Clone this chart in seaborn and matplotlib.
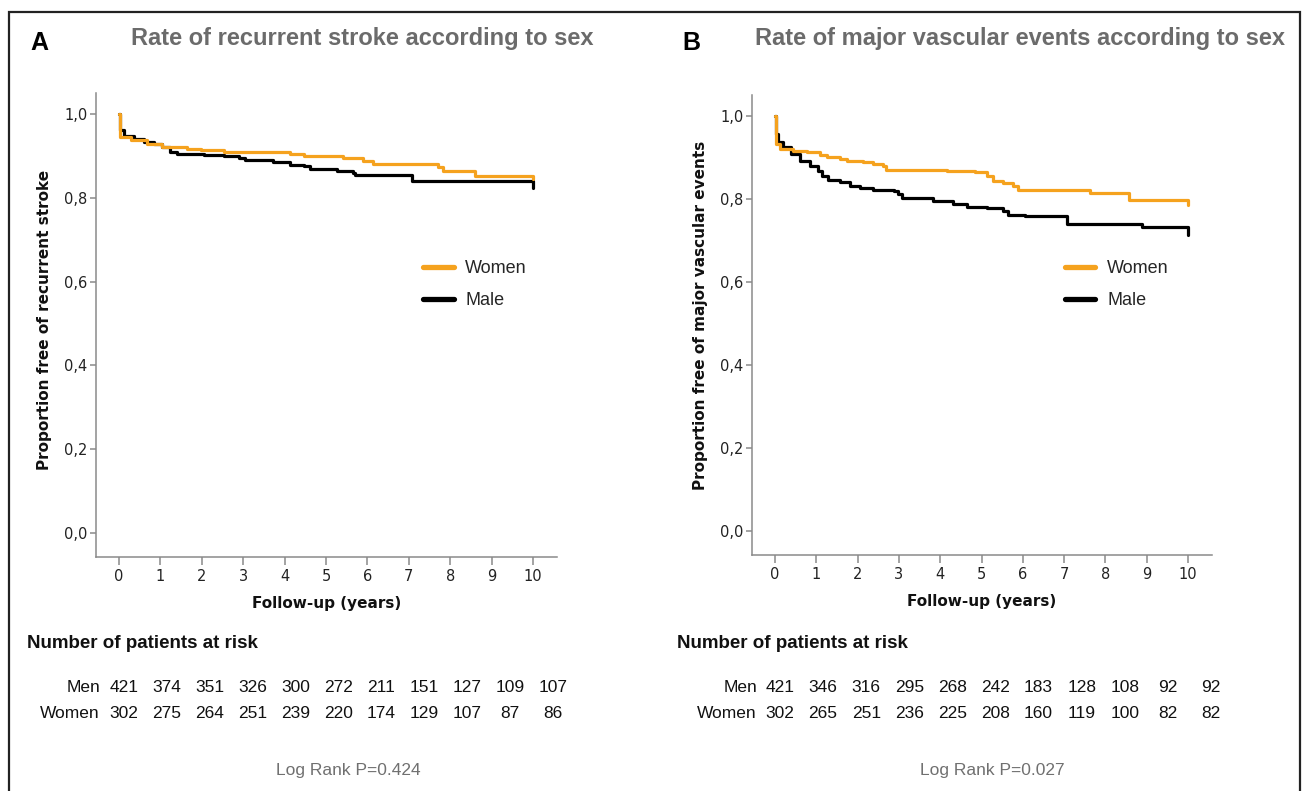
import numpy as np
import pandas as pd
import matplotlib
matplotlib.use("Agg")
import matplotlib.pyplot as plt
import seaborn as sns
from matplotlib.patches import Rectangle

# Kaplan-Meier steps (years, proportion event-free)
stroke_women_t = [0, 0.03, 0.28, 0.68, 1.04, 1.65, 1.97, 2.53, 4.14, 4.46, 5.42, 5.9, 6.14,
                  7.71, 7.83, 8.59, 10.0]
stroke_women_s = [1.0, 0.945, 0.937, 0.929, 0.921, 0.917, 0.913, 0.909, 0.905, 0.899, 0.894,
                  0.888, 0.881, 0.873, 0.865, 0.853, 0.845]
stroke_men_t = [0, 0.02, 0.12, 0.36, 0.6, 0.84, 1.04, 1.24, 1.4, 2.05, 2.53, 2.89, 3.05, 3.73,
                4.14, 4.46, 4.62, 5.26, 5.66, 5.7, 7.07, 10.0]
stroke_men_s = [1.0, 0.962, 0.948, 0.94, 0.934, 0.929, 0.921, 0.91, 0.905, 0.902, 0.899, 0.894,
                0.889, 0.885, 0.879, 0.875, 0.869, 0.865, 0.86, 0.855, 0.841, 0.823]

mve_women_t = [0, 0.03, 0.12, 0.44, 0.77, 1.09, 1.25, 1.57, 1.74, 2.14, 2.38, 2.62, 2.7, 4.16,
               4.84, 5.13, 5.29, 5.53, 5.77, 5.89, 7.63, 8.56, 10.0]
mve_women_s = [1.0, 0.932, 0.92, 0.916, 0.912, 0.906, 0.9, 0.896, 0.89, 0.888, 0.884, 0.878,
               0.87, 0.866, 0.864, 0.856, 0.844, 0.838, 0.832, 0.822, 0.814, 0.798, 0.786]
mve_men_t = [0, 0.02, 0.08, 0.2, 0.4, 0.6, 0.85, 1.05, 1.13, 1.29, 1.57, 1.82, 2.06, 2.38, 2.87,
             2.99, 3.07, 3.83, 4.32, 4.64, 5.13, 5.53, 5.65, 6.05, 7.06, 8.88, 10.0]
mve_men_s = [1.0, 0.956, 0.936, 0.924, 0.908, 0.892, 0.88, 0.868, 0.856, 0.846, 0.84, 0.832,
             0.826, 0.822, 0.818, 0.812, 0.802, 0.794, 0.788, 0.78, 0.778, 0.77, 0.762, 0.758,
             0.74, 0.732, 0.714]

# Number at risk, years 0..10
stroke_men_risk = [421, 374, 351, 326, 300, 272, 211, 151, 127, 109, 107]
stroke_women_risk = [302, 275, 264, 251, 239, 220, 174, 129, 107, 87, 86]
mve_men_risk = [421, 346, 316, 295, 268, 242, 183, 128, 108, 92, 92]
mve_women_risk = [302, 265, 251, 236, 225, 208, 160, 119, 100, 82, 82]

x_ticks = list(range(11))
y_ticks = [0.0, 0.2, 0.4, 0.6, 0.8, 1.0]
y_ticklabels = ['0,0', '0,2', '0,4', '0,6', '0,8', '1,0']

ORANGE = '#F5A21E'
GRID_GREY = '#8a8a8a'
TITLE_GREY = '#6b6b6b'

W, H = 1302, 791
sns.set_theme(style='white')
plt.rcParams['font.family'] = ['DejaVu Sans']

fig = plt.figure(figsize=(W / 100, H / 100), dpi=100)
fig.patch.set_facecolor('white')


def fx(x):
    return x / W


def fy(y):
    return 1 - y / H


def km_frame(t_w, s_w, t_m, s_m):
    men = pd.DataFrame({'time': t_m, 'surv': s_m, 'sex': 'Male'})
    women = pd.DataFrame({'time': t_w, 'surv': s_w, 'sex': 'Women'})
    return pd.concat([men, women], ignore_index=True)


def panel(box, df, ylabel, ylabel_y, legend_xy):
    left, top, right, bottom = box
    ax = fig.add_axes([fx(left), fy(bottom), (right - left) / W, (bottom - top) / H])
    sns.lineplot(data=df, x='time', y='surv', hue='sex', hue_order=['Male', 'Women'],
                 palette={'Male': 'black', 'Women': ORANGE}, estimator=None, sort=False,
                 drawstyle='steps-post', linewidth=2.3, ax=ax)
    ax.set_xlim(-0.556, 10.58)
    ax.set_ylim(-0.057, 1.05)
    ax.set_xticks(x_ticks)
    ax.set_yticks(y_ticks)
    ax.set_yticklabels(y_ticklabels)
    for s in ['top', 'right']:
        ax.spines[s].set_visible(False)
    for s in ['left', 'bottom']:
        ax.spines[s].set_color(GRID_GREY)
        ax.spines[s].set_linewidth(1.1)
    ax.tick_params(axis='both', colors=GRID_GREY, labelcolor='#222222', labelsize=10.5,
                   width=1.1)
    ax.tick_params(axis='x', length=5.5, pad=3, direction='out', bottom=True)
    ax.tick_params(axis='y', length=4, pad=2, direction='out', left=True)
    ax.set_xlabel('Follow-up (years)', fontsize=11, fontweight='bold', color='#111111')
    ax.set_ylabel(ylabel, fontsize=11, fontweight='bold', color='#111111')
    ax.xaxis.set_label_coords(0.5, -0.084)
    ax.yaxis.set_label_coords(-0.095, ylabel_y)

    handles, labels = ax.get_legend_handles_labels()
    order = [labels.index('Women'), labels.index('Male')]
    leg = ax.legend([handles[i] for i in order], ['Women', 'Male'], loc='center left',
                    bbox_to_anchor=legend_xy, frameon=False, borderpad=0, borderaxespad=0,
                    handlelength=1.7, handletextpad=0.65, labelspacing=0.85,
                    prop={'family': 'Liberation Sans', 'size': 13})
    for ln in leg.get_lines():
        ln.set_linewidth(3.8)
    return ax


def risk_table(label_right, first_x, step, men, women):
    for row_y, name, vals in [(687, 'Men', men), (713, 'Women', women)]:
        fig.text(fx(label_right), fy(row_y), name, ha='right', va='center',
                 family='Liberation Sans', fontsize=12.5, color='#111111')
        for i, v in enumerate(vals):
            fig.text(fx(first_x + i * step), fy(row_y), str(v), ha='center', va='center',
                     family='Liberation Sans', fontsize=12.5, color='#111111')


# Panel A
df_a = km_frame(stroke_women_t, stroke_women_s, stroke_men_t, stroke_men_s)
panel((96, 93, 557, 557), df_a, 'Proportion free of recurrent stroke', 0.51, (0.709, 0.587))
fig.text(fx(39), fy(43), 'A', ha='center', va='center', family='Liberation Sans',
         fontsize=18, fontweight='bold', color='black')
fig.text(fx(362), fy(38), 'Rate of recurrent stroke according to sex', ha='center',
         va='center', family='Liberation Sans', fontsize=17, fontweight='bold', color=TITLE_GREY)
fig.text(fx(27), fy(643), 'Number of patients at risk', ha='left', va='center',
         family='Liberation Sans', fontsize=13.5, fontweight='bold', color='#111111')
risk_table(100, 124, 42.9, stroke_men_risk, stroke_women_risk)
fig.text(fx(348), fy(771), 'Log Rank P=0.424', ha='center', va='center',
         family='Liberation Sans', fontsize=12.5, color='#707070')

# Panel B
df_b = km_frame(mve_women_t, mve_women_s, mve_men_t, mve_men_s)
panel((752, 95, 1212, 555), df_b, 'Proportion free of major vascular events', 0.52,
      (0.680, 0.588))
fig.text(fx(691), fy(43), 'B', ha='center', va='center', family='Liberation Sans',
         fontsize=18, fontweight='bold', color='black')
fig.text(fx(1020), fy(38), 'Rate of major vascular events according to sex', ha='center',
         va='center', family='Liberation Sans', fontsize=17, fontweight='bold', color=TITLE_GREY)
fig.text(fx(677), fy(643), 'Number of patients at risk', ha='left', va='center',
         family='Liberation Sans', fontsize=13.5, fontweight='bold', color='#111111')
risk_table(757, 780, 43.1, mve_men_risk, mve_women_risk)
fig.text(fx(992), fy(771), 'Log Rank P=0.027', ha='center', va='center',
         family='Liberation Sans', fontsize=12.5, color='#707070')

# frame around the figure (open at the bottom, as cropped in the source)
fig.add_artist(Rectangle((fx(9), -0.05), (1300 - 9) / W, fy(12) + 0.05, transform=fig.transFigure,
                         fill=False, edgecolor='#222222', linewidth=1.6))

fig.savefig('out.png', dpi=100)
